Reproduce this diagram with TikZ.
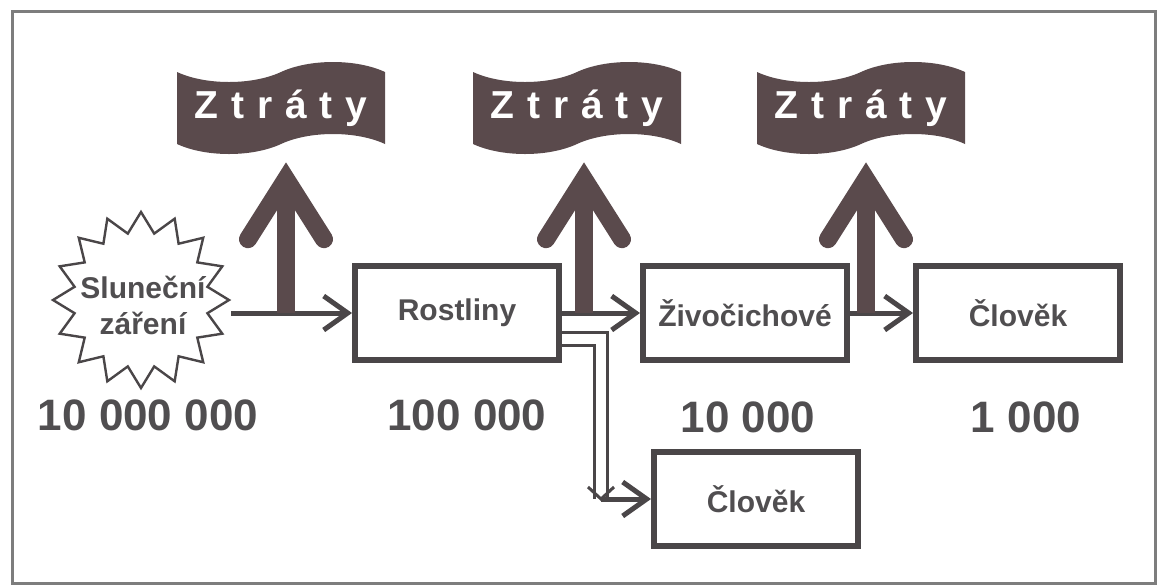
\documentclass[tikz,border=0pt]{standalone}
\usepackage{fontspec}
\setmainfont{Liberation Sans}
\newfontfamily\lossfont[LetterSpace=33]{Liberation Sans}
\usetikzlibrary{arrows.meta,shapes.geometric,shapes.symbols}
\definecolor{lossbrown}{RGB}{90,74,76}
\definecolor{boxgray}{RGB}{74,70,72}
\definecolor{textgray}{RGB}{80,78,80}
\definecolor{framegray}{RGB}{125,125,125}
\begin{document}
\begin{tikzpicture}[x=0.5pt,y=-0.5pt,
		stagebox/.style={draw=boxgray,line width=3pt,minimum width=102pt,minimum height=47pt,inner sep=0pt,text=textgray,font=\bfseries\fontsize{15}{18}\selectfont},
		stagetext/.style={text=textgray,align=center,font=\bfseries\fontsize{15}{18}\selectfont},
		sunstar/.style={star,star points=16,star point ratio=1.3,minimum size=88pt,inner sep=0pt,draw=boxgray,line width=1.2pt,fill=white},
		amount/.style={text=textgray,font=\bfseries\fontsize{22}{26}\selectfont},
		lossbanner/.style={tape,fill=lossbrown,text=white,minimum width=104pt,minimum height=46pt,tape bend height=10pt,inner sep=0pt,font=\lossfont\bfseries\fontsize{19.5}{22}\selectfont},
		flow/.style={draw=boxgray,line width=2.5pt,-{Straight Barb[length=12pt,width=17pt]}},
		lossarrow/.style={draw=lossbrown,line width=9pt,shorten >=9pt,-{Straight Barb[length=30pt,width=38pt,line cap=round,line join=miter]}},
		branch/.style={draw=boxgray,line width=1.5pt,double=white,double distance=5pt}]
	\useasboundingbox (0,0) rectangle (1157,585);
	\draw[framegray,line width=1.5pt] (12,11) rectangle (1155,583);
	\node[sunstar] (sun) at (141,300) {};
	\node[stagetext] (sunlabel) at (143,305) {Sluneční\\záření};
	\node[stagebox] (rost) at (457,313) {Rostliny};
	\node[stagebox] (ziv) at (745,313) {Živočichové};
	\node[stagebox] (clov) at (1018,313) {Člověk\hspace{20pt}};
	\node[stagebox] (clovb) at (756,499) {Člověk\hspace{20pt}};
	\node[lossbanner] (z1) at (281,108) {Ztráty};
	\node[lossbanner] (z2) at (577,108) {Ztráty};
	\node[lossbanner] (z3) at (861,108) {Ztráty};
	\node[amount] (n1) at (148,415) {10 000 000};
	\node[amount] (n2) at (467,415) {100 000};
	\node[amount] (n3) at (748,417) {10 000};
	\node[amount] (n4) at (1026,417) {1 000};
	\coordinate (l1) at (286,313);
	\coordinate (l2) at (584,313);
	\coordinate (l3) at (866,313);
	\coordinate (bend) at (601,499);
	\draw[flow] (sun.east |- rost.west) -- (rost.west);
	\draw[flow] (rost) -- (ziv);
	\draw[flow] (ziv) -- (clov);
	\draw[branch] ([yshift=-13pt]rost.east) -| (bend);
	\draw[boxgray,line width=1.5pt] (bend) ++(-13,-12) -- (bend) -- ++(13,-12);
	\draw[flow] (bend) -- (clovb);
	\draw[lossarrow] (l1) -- (l1 |- z1.south);
	\draw[lossarrow] (l2) -- (l2 |- z2.south);
	\draw[lossarrow] (l3) -- (l3 |- z3.south);
\end{tikzpicture}
\end{document}
